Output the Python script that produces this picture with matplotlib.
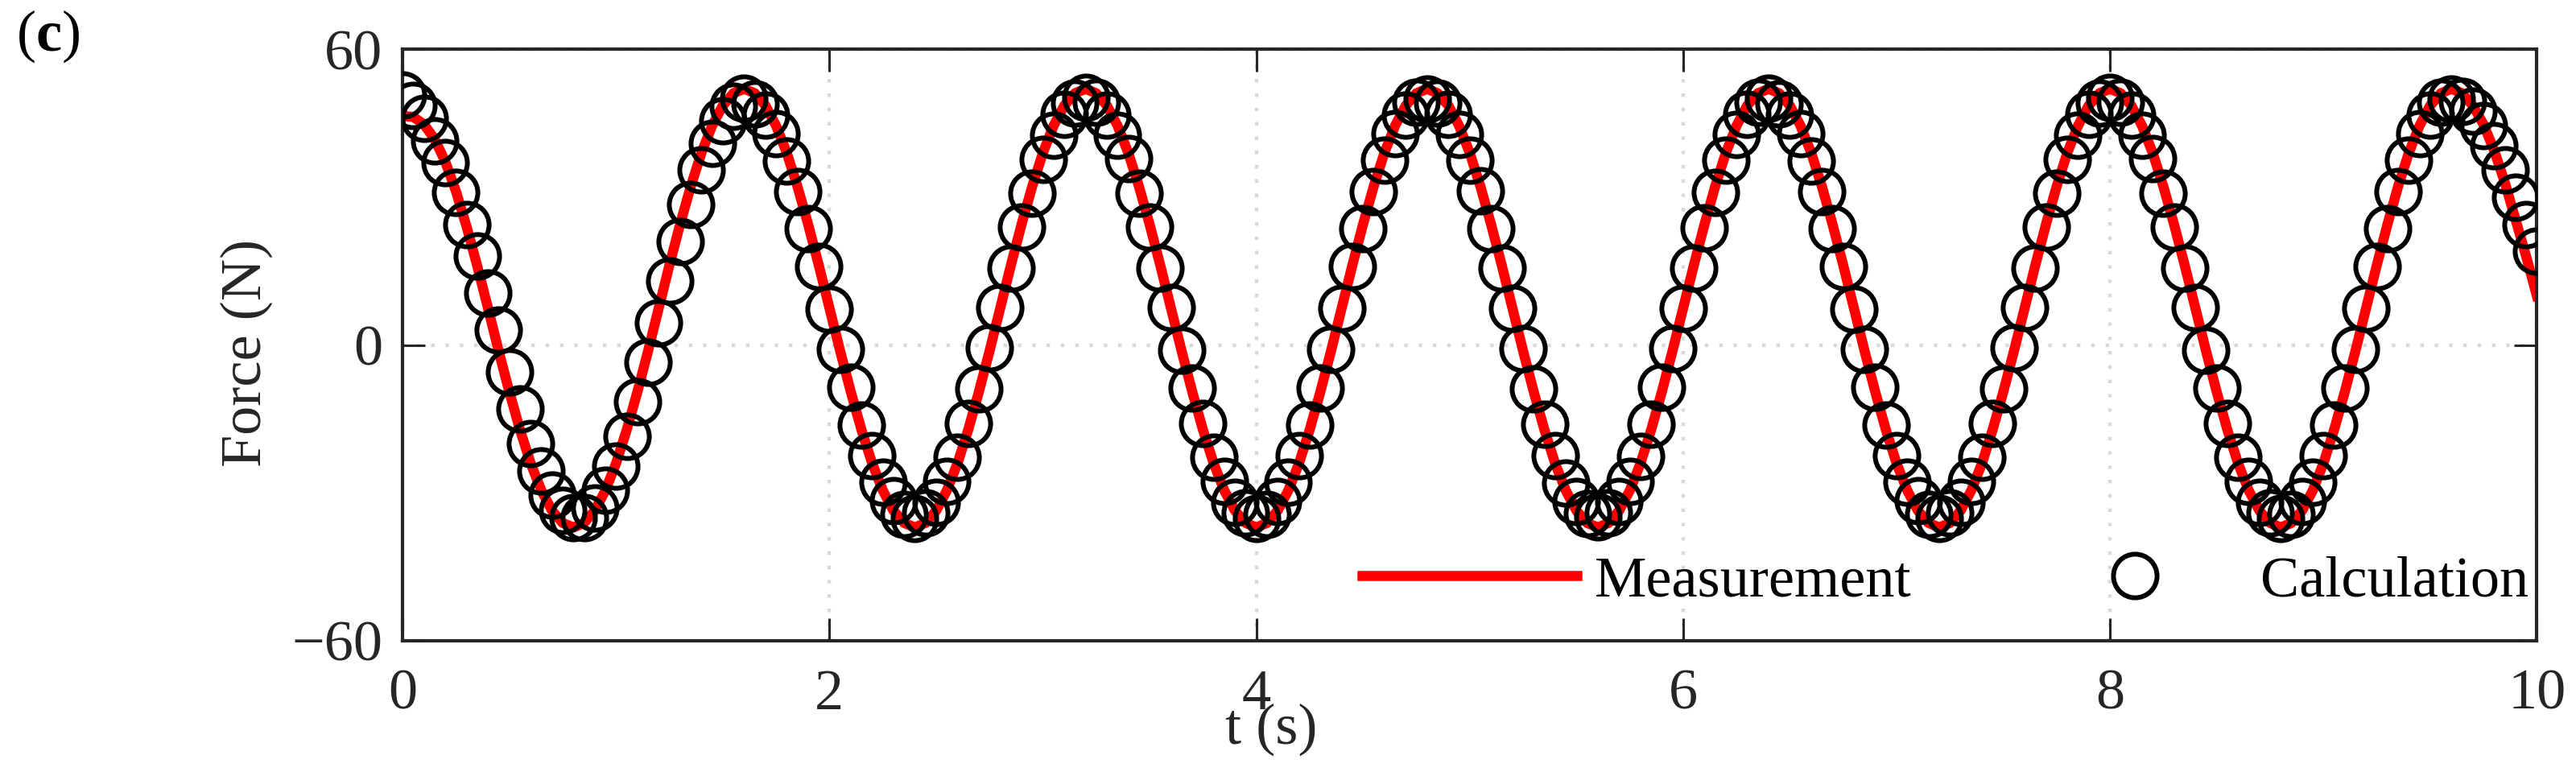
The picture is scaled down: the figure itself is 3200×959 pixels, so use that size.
import numpy as np
import matplotlib
matplotlib.use("Agg")
from matplotlib import pyplot as plt

plt.rcParams["font.family"] = ["Liberation Serif", "DejaVu Serif"]
plt.rcParams["mathtext.fontset"] = "custom"
plt.rcParams["mathtext.bf"] = "Liberation Serif:bold"

# sample times (s), 0.05 s step
time_step = 0.05
n_samples = 201

measurement = [
    46.5, 46.3, 44.8, 41.8, 37.2, 31.2, 24.0, 16.0, 7.5, -1.2, -9.5, -17.2, -24.0, -29.5, -33.6, -36.1,
    -37.0, -36.1, -33.6, -29.5, -24.0, -17.2, -9.5, -1.2, 7.5, 16.2, 24.5, 32.2, 39.0, 44.5, 48.6, 51.1,
    52.0, 51.1, 48.6, 44.5, 39.0, 32.2, 24.5, 16.2, 7.5, -1.2, -9.5, -17.2, -24.0, -29.5, -33.6, -36.1,
    -37.0, -36.1, -33.6, -29.5, -24.0, -17.2, -9.5, -1.2, 7.5, 16.2, 24.5, 32.2, 39.0, 44.5, 48.6, 51.1,
    52.0, 51.1, 48.6, 44.5, 39.0, 32.2, 24.5, 16.2, 7.5, -1.2, -9.5, -17.2, -24.0, -29.5, -33.6, -36.1,
    -37.0, -36.1, -33.6, -29.5, -24.0, -17.2, -9.5, -1.2, 7.5, 16.2, 24.5, 32.2, 39.0, 44.5, 48.6, 51.1,
    52.0, 51.1, 48.6, 44.5, 39.0, 32.2, 24.5, 16.2, 7.5, -1.2, -9.5, -17.2, -24.0, -29.5, -33.6, -36.1,
    -37.0, -36.1, -33.6, -29.5, -24.0, -17.2, -9.5, -1.2, 7.5, 16.2, 24.5, 32.2, 39.0, 44.5, 48.6, 51.1,
    52.0, 51.1, 48.6, 44.5, 39.0, 32.2, 24.5, 16.2, 7.5, -1.2, -9.5, -17.2, -24.0, -29.5, -33.6, -36.1,
    -37.0, -36.1, -33.6, -29.5, -24.0, -17.2, -9.5, -1.2, 7.5, 16.2, 24.5, 32.2, 39.0, 44.5, 48.6, 51.1,
    52.0, 51.1, 48.6, 44.5, 39.0, 32.2, 24.5, 16.2, 7.5, -1.2, -9.5, -17.2, -24.0, -29.5, -33.6, -36.1,
    -37.0, -36.1, -33.6, -29.5, -24.0, -17.2, -9.5, -1.2, 7.5, 16.2, 24.5, 32.2, 39.0, 44.5, 48.6, 51.1,
    52.0, 51.1, 48.6, 44.8, 39.5, 33.0, 25.5, 18.0, 10.0,
]

# calculated force (N), read from the circles
calculation = [
    50.7, 48.6, 46.0, 41.5, 37.0, 31.0, 24.5, 18.0, 10.5, 3.0, -5.5, -13.0, -20.0, -25.5, -30.5, -33.5,
    -35.0, -35.0, -33.0, -29.5, -24.5, -18.5, -11.5, -3.5, 4.5, 13.0, 21.0, 28.5, 35.5, 41.0, 45.5, 48.5,
    50.1, 49.0, 46.6, 42.9, 37.4, 31.2, 23.6, 15.9, 7.3, -0.9, -8.6, -16.2, -22.4, -27.9, -31.6, -34.3,
    -35.2, -34.0, -31.9, -27.6, -22.7, -15.9, -8.9, -0.6, 7.6, 15.6, 23.9, 30.9, 37.7, 42.6, 46.9, 49.1,
    50.2, 49.3, 46.7, 42.6, 37.8, 30.9, 23.9, 15.6, 7.6, -1.0, -8.7, -15.9, -22.7, -27.7, -31.9, -34.1,
    -35.1, -34.3, -31.7, -27.9, -22.5, -16.2, -8.7, -0.9, 7.4, 15.9, 23.7, 31.2, 37.5, 42.9, 46.7, 49.3,
    49.9, 49.1, 46.9, 42.7, 37.5, 31.3, 23.7, 15.7, 7.4, -0.7, -8.9, -16.0, -22.5, -28.0, -31.7, -34.2,
    -34.9, -34.1, -31.8, -27.7, -22.6, -16.0, -8.6, -0.7, 7.5, 15.7, 23.8, 31.0, 37.6, 42.7, 46.8, 49.2,
    50.1, 49.0, 46.6, 42.9, 37.4, 31.2, 23.6, 15.9, 7.3, -0.9, -8.6, -16.2, -22.4, -27.9, -31.6, -34.3,
    -35.2, -34.0, -31.9, -27.6, -22.7, -15.9, -8.9, -0.6, 7.6, 15.6, 23.9, 30.9, 37.7, 42.6, 46.9, 49.1,
    50.2, 49.3, 46.7, 42.6, 37.8, 30.9, 23.9, 15.6, 7.6, -1.0, -8.7, -15.9, -22.7, -27.7, -31.9, -34.1,
    -35.1, -34.3, -31.7, -27.9, -22.5, -16.2, -8.7, -0.9, 7.4, 15.9, 23.7, 31.2, 37.5, 42.9, 46.7, 49.3,
    50.0, 49.5, 47.5, 44.5, 40.5, 35.5, 30.0, 24.5, 19.0,
]

x_ticks = [0, 2, 4, 6, 8, 10]
y_ticks = [-60, 0, 60]

t = np.round(np.arange(n_samples) * time_step, 2)

fig = plt.figure(figsize=(32, 9.59), dpi=100)
ax = fig.add_axes([0.1563, 0.170, 0.8285, 0.766])

ax.plot(t, measurement, color="red", lw=9, label="Measurement", zorder=2)
ax.plot(t, calculation, ls="none", marker="o", ms=39, mfc="none", mec="black", mew=4.3,
        label="Calculation", zorder=3)

ax.set_xlim(0, 10)
ax.set_ylim(-60, 60)
ax.set_xticks(x_ticks)
ax.set_yticks(y_ticks)
ax.set_yticklabels([f"{v}".replace("-", "\u2212") for v in y_ticks])

fs = 52
ax.tick_params(direction="in", length=20, width=2.2, colors="#262626", labelsize=fs,
               top=True, right=True)
ax.tick_params(axis="x", pad=25)
ax.tick_params(axis="y", pad=18)
for s in ax.spines.values():
    s.set_linewidth(3)
    s.set_color("#262626")

ax.grid(True, color="#d9d9d9", lw=3.2, ls=(0, (1, 3)))
ax.set_axisbelow(True)

ax.set_ylabel("Force (N)", fontsize=fs, color="#262626")
ax.yaxis.set_label_coords(-0.073, 0.486)
ax.set_xlabel("t (s)", fontsize=fs, color="#262626")
ax.xaxis.set_label_coords(0.407, -0.15)
ax.xaxis.label.set_va("center")
ax.yaxis.label.set_va("center")

ax.legend(loc="center right", bbox_to_anchor=(0.996, 0.10), ncol=2, frameon=False,
          fontsize=fs, handlelength=3.7, handletextpad=0.3, columnspacing=2.0,
          borderpad=0, borderaxespad=0)

fig.text(20 / 3200, 1 - 45 / 959, r"($\mathbf{c}$)", fontsize=fs, va="center", ha="left")

fig.savefig("out.png", dpi=100)
